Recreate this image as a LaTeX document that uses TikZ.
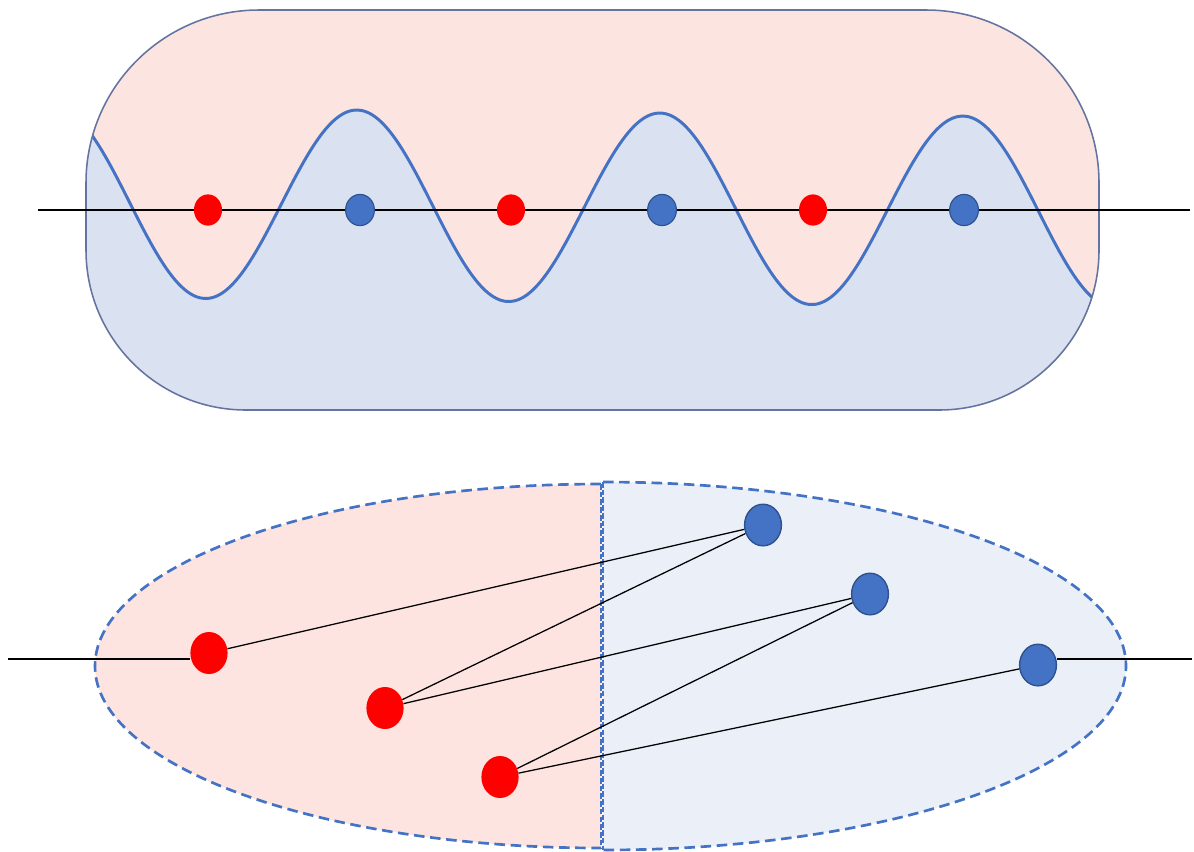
\documentclass[tikz,border=0pt]{standalone}
\usetikzlibrary{shapes.geometric}
\definecolor{pinkA}{HTML}{FCE4E0}
\definecolor{blueA}{HTML}{DAE1F0}
\definecolor{pinkB}{HTML}{FDE4E1}
\definecolor{blueB}{HTML}{EAEFF8}
\definecolor{wavec}{HTML}{4472C4}
\definecolor{bdot}{HTML}{4472C4}
\definecolor{bdotline}{HTML}{2F528F}
\definecolor{framec}{HTML}{64739F}
\tikzset{
  rdotS/.style={ellipse, inner sep=0pt, minimum width=0.7cm, minimum height=0.78cm, fill=red},
  bdotS/.style={ellipse, inner sep=0pt, minimum width=0.72cm, minimum height=0.78cm, fill=bdot, draw=bdotline, line width=0.8pt},
  rdotL/.style={ellipse, inner sep=0pt, minimum width=0.93cm, minimum height=1.05cm, fill=red},
  bdotL/.style={ellipse, inner sep=0pt, minimum width=0.92cm, minimum height=1.04cm, fill=bdot, draw=bdotline, line width=1pt},
  wavestyle/.style={draw=wavec, line width=2.1pt},
  dashedge/.style={draw=wavec, line width=1.9pt, dash pattern=on 7.5pt off 4pt},
  link/.style={draw=black, line width=0.9pt},
}
\begin{document}
\begin{tikzpicture}[x=0.025cm, y=-0.025cm]
\useasboundingbox (0,0) rectangle (1194,851);
\def\capsule{(259,10) -- (926,10) arc[start angle=-90, end angle=0, radius=173]
  -- (1099,250) arc[start angle=0, end angle=90, radius=160]
  -- (246,410) arc[start angle=90, end angle=180, radius=160]
  -- (86,183) arc[start angle=180, end angle=270, radius=173] -- cycle}
% top panel
\fill[blueA] \capsule;
\begin{scope}
  \clip \capsule;
  \fill[pinkA] plot[domain=70:1110, samples=240, smooth] (\x, {205+0.01*(\x-357)-95*cos(1.188119*(\x-357))}) -- (1110,0) -- (70,0) -- cycle;
  \draw[wavestyle] plot[domain=70:1110, samples=240, smooth] (\x, {205+0.01*(\x-357)-95*cos(1.188119*(\x-357))});
\end{scope}
\draw[framec, line width=1.1pt] \capsule;
\coordinate (TL) at (38,210);
\coordinate (TR) at (1190,210);
\draw[link] (TL) -- (TR);
\node[rdotS] (ta) at (208,210) {};
\node[bdotS] (tb) at (360,210) {};
\node[rdotS] (tc) at (511,210) {};
\node[bdotS] (td) at (662,210) {};
\node[rdotS] (te) at (813,210) {};
\node[bdotS] (tf) at (964,210) {};
% bottom panel
\fill[pinkB] (601,484) arc[start angle=-90, end angle=-270, x radius=506, y radius=182] -- cycle;
\fill[blueB] (603,482) arc[start angle=-90, end angle=90, x radius=523, y radius=184] -- cycle;
\draw[dashedge] (601,484) arc[start angle=-90, end angle=-270, x radius=506, y radius=182];
\draw[dashedge] (603,482) arc[start angle=-90, end angle=90, x radius=523, y radius=184];
\draw[draw=wavec, line width=1pt, dash pattern=on 4pt off 1.5pt] (601,484) -- (601,848);
\draw[draw=wavec, line width=1pt, dash pattern=on 4pt off 1.5pt] (603,482) -- (603,850);
\node[rdotL] (r1) at (209,653) {};
\node[rdotL] (r2) at (385,708) {};
\node[rdotL] (r3) at (500,777) {};
\node[bdotL] (b1) at (763,525) {};
\node[bdotL] (b2) at (870,594) {};
\node[bdotL] (b3) at (1038,665) {};
\coordinate (BL) at (8,659);
\coordinate (BR) at (1192,659);
\draw[link] (BL) -- (BL -| r1.west);
\draw[link] (b3.east |- BR) -- (BR);
\draw[link] (r1) -- (b1);
\draw[link] (r2) -- (b1);
\draw[link] (r2) -- (b2);
\draw[link] (r3) -- (b2);
\draw[link] (r3) -- (b3);
\end{tikzpicture}
\end{document}
